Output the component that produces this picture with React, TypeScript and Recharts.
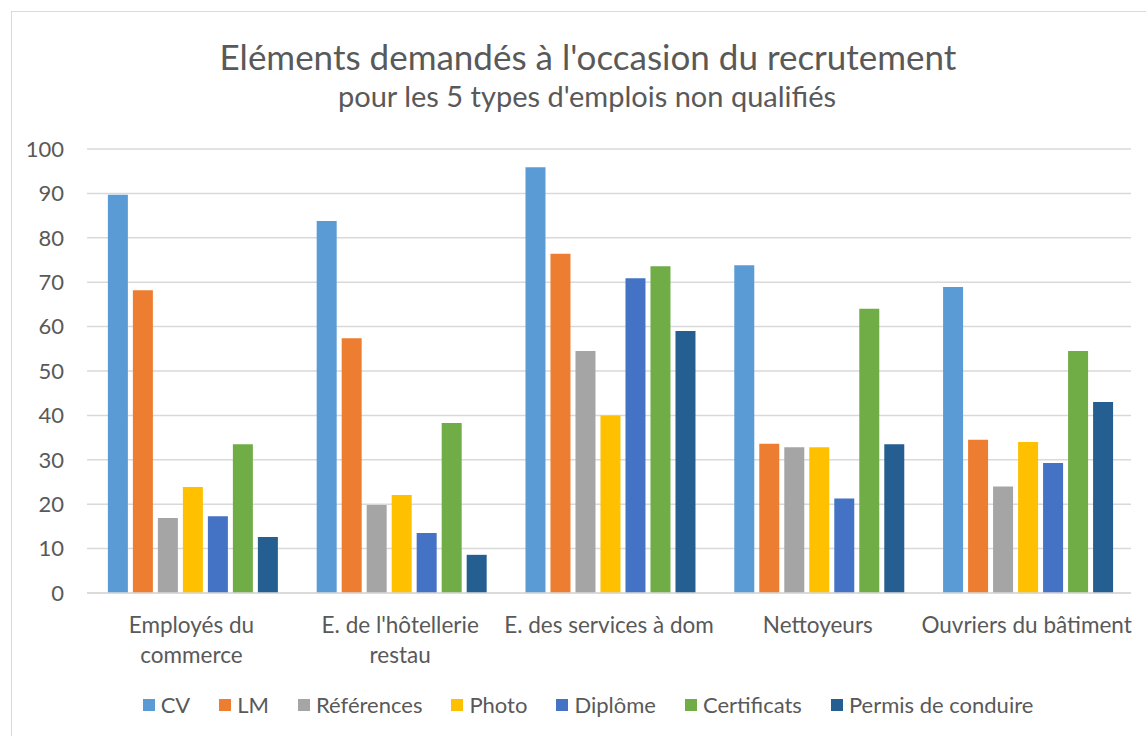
import React from "react";
import { BarChart, Bar, CartesianGrid, XAxis, YAxis, Legend } from "recharts";

const categories = [
  "Employés du commerce",
  "E. de l'hôtellerie restau",
  "E. des services à dom",
  "Nettoyeurs",
  "Ouvriers du bâtiment",
];

// how each category label wraps under the axis
const tickLabels = [
  ["Employés du", "commerce"],
  ["E. de l'hôtellerie", "restau"],
  ["E. des services à dom"],
  ["Nettoyeurs"],
  ["Ouvriers du bâtiment"],
];

const cv = [89.7, 83.8, 95.9, 73.8, 68.9];
const lm = [68.2, 57.4, 76.4, 33.6, 34.5];
const references = [16.9, 19.8, 54.5, 32.8, 24.0];
const photo = [23.9, 22.1, 40.0, 32.8, 34.0];
const diplome = [17.3, 13.5, 70.9, 21.3, 29.3];
const certificats = [33.5, 38.3, 73.6, 64.0, 54.5];
const permis = [12.6, 8.6, 59.0, 33.5, 43.0];

const yTicks = [0, 10, 20, 30, 40, 50, 60, 70, 80, 90, 100];

const series = [
  { key: "CV", values: cv, color: "#5B9BD5" },
  { key: "LM", values: lm, color: "#ED7D31" },
  { key: "Références", values: references, color: "#A5A5A5" },
  { key: "Photo", values: photo, color: "#FFC000" },
  { key: "Diplôme", values: diplome, color: "#4472C4" },
  { key: "Certificats", values: certificats, color: "#70AD47" },
  { key: "Permis de conduire", values: permis, color: "#255E91" },
];

const data = categories.map((name, i) => {
  const row: Record<string, string | number> = { name };
  series.forEach((s) => {
    row[s.key] = s.values[i];
  });
  return row;
});

const FONT = "Lato, 'Open Sans', sans-serif";
const TEXT = "#595959";

const CategoryTick = (props: any) => {
  const { x, y, index } = props;
  const lines = tickLabels[index] || [props.payload.value];
  return (
    <text x={x} y={y} textAnchor="middle" fill={TEXT} fontSize={22.5} fontFamily={FONT}>
      {lines.map((l: string, i: number) => (
        <tspan key={i} x={x} y={y + 32 + i * 30}>
          {l}
        </tspan>
      ))}
    </text>
  );
};

// keep the series order (recharts would otherwise sort the legend)
const LegendContent = () => (
  <div
    style={{
      display: "flex",
      justifyContent: "center",
      gap: 29,
      fontFamily: FONT,
      fontSize: 22,
      color: TEXT,
      paddingLeft: 30,
    }}
  >
    {series.map((s) => (
      <div key={s.key} style={{ display: "flex", alignItems: "center" }}>
        <span
          style={{
            width: 12,
            height: 12,
            background: s.color,
            display: "inline-block",
            marginRight: 6,
          }}
        />
        <span>{s.key}</span>
      </div>
    ))}
  </div>
);

export default function App() {
  return (
    <div
      style={{
        position: "absolute",
        left: 0,
        top: 0,
        width: 1146,
        height: 736,
        overflow: "hidden",
        background: "#fff",
      }}
    >
      <div
        style={{
          position: "absolute",
          left: 11,
          top: 11,
          width: 1160,
          height: 800,
          border: "1px solid #D9D9D9",
        }}
      />
      <svg
        width={1146}
        height={130}
        style={{ position: "absolute", left: 0, top: 0 }}
      >
        <text x={588} y={70} textAnchor="middle" fill={TEXT} fontSize={35} fontFamily={FONT}>
          Eléments demandés à l'occasion du recrutement
        </text>
        <text x={587} y={107} textAnchor="middle" fill={TEXT} fontSize={29} fontFamily={FONT}>
          pour les 5 types d'emplois non qualifiés
        </text>
      </svg>
      <div style={{ position: "absolute", left: 0, top: 0 }}>
        <BarChart
          width={1146}
          height={736}
          data={data}
          margin={{ top: 149, right: 15, left: 27, bottom: 0 }}
          barCategoryGap="10%"
          barGap={5}
        >
          <CartesianGrid vertical={false} stroke="#D9D9D9" strokeWidth={1.5} />
          <XAxis
            dataKey="name"
            height={143}
            axisLine={{ stroke: "#D9D9D9", strokeWidth: 1.5 }}
            tickLine={false}
            interval={0}
            tick={<CategoryTick />}
          />
          <YAxis
            width={60}
            domain={[0, 100]}
            ticks={yTicks}
            axisLine={false}
            tickLine={false}
            tickMargin={17}
            tick={{ fill: TEXT, fontSize: 22, fontFamily: FONT }}
          />
          <Legend
            verticalAlign="middle"
            layout="horizontal"
            align="center"
            wrapperStyle={{ top: 691, left: 0, width: 1146 }}
            content={<LegendContent />}
          />
          {series.map((s) => (
            <Bar
              key={s.key}
              dataKey={s.key}
              fill={s.color}
              isAnimationActive={false}
            />
          ))}
        </BarChart>
      </div>
    </div>
  );
}
